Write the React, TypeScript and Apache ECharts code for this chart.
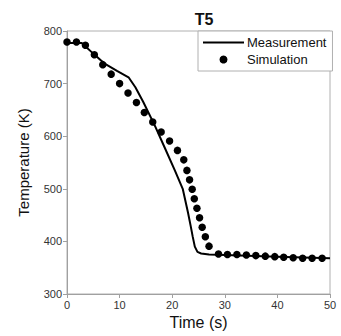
import React, { useEffect, useRef } from "react";
import * as echarts from "echarts";

const measTime = [0, 2.8, 5, 7, 9.5, 11.7, 13, 14.5, 16.7, 18.5, 20.5, 22, 23, 23.5, 23.9, 24.3, 24.8, 25.5, 27, 30, 40, 50];
const measTemp = [777, 777, 757, 739, 724, 712, 693, 665, 620, 580, 535, 500, 455, 430, 409, 390, 380, 377, 375, 374, 371, 368];

const simTime = [0, 1.8, 3.5, 5.2, 6.8, 8.4, 10, 11.6, 13.2, 14.7, 16.3, 17.9, 19.5, 21, 22.2, 22.8, 23.3, 23.8, 24.2, 24.7, 25.2, 25.7, 26.3, 27.0, 28.8, 30.5, 32.3, 34.1, 35.9, 37.7, 39.5, 41.2, 43.0, 44.8, 46.6, 48.5];
const simTemp = [779, 779, 773, 755, 736, 718, 700, 682, 664, 645, 627, 608, 591, 573, 555, 535, 517, 499, 481, 463, 445, 427, 409, 391, 376, 375, 375, 374, 373, 372, 371, 370, 369, 368, 368, 368, 367];

const xTicks = { min: 0, max: 50, interval: 10 };
const yTicks = { min: 300, max: 800, interval: 100 };

export default function App() {
  const ref = useRef<HTMLDivElement>(null);
  useEffect(() => {
    const chart = echarts.init(ref.current!, null, { renderer: "svg" });
    const font = "Liberation Sans, Arial, sans-serif";
    chart.setOption({
      animation: false,
      textStyle: { fontFamily: font },
      title: {
        text: "T5",
        left: 199,
        top: 6,
        textAlign: "center",
        textStyle: { fontSize: 16, fontWeight: "bold", color: "#111", fontFamily: font },
      },
      grid: {
        left: 67,
        right: 11,
        top: 31,
        bottom: 42,
        show: true,
        borderColor: "#b0b0b0",
        borderWidth: 1,
      },
      legend: {
        orient: "vertical",
        left: 198,
        top: 31,
        padding: [5, 6, 5, 5],
        itemWidth: 41,
        itemHeight: 8,
        itemGap: 4,
        borderColor: "#b0b0b0",
        borderWidth: 1,
        backgroundColor: "#fff",
        textStyle: { fontSize: 13, color: "#111", fontFamily: font, padding: [0, 0, 0, -2] },
        data: [
          { name: "Measurement", icon: "path://M0,0 H41 V2 H0 Z", itemStyle: { color: "#000" } },
          { name: "Simulation", icon: "circle", itemStyle: { color: "#000" } },
        ],
      },
      xAxis: {
        type: "value",
        min: xTicks.min,
        max: xTicks.max,
        interval: xTicks.interval,
        name: "Time (s)",
        nameLocation: "middle",
        nameGap: 20,
        nameTextStyle: { fontSize: 16, color: "#111", fontFamily: font },
        axisLine: { lineStyle: { color: "#a0a0a0" } },
        axisTick: { lineStyle: { color: "#a0a0a0" }, length: 4 },
        axisLabel: { fontSize: 11, color: "#333", margin: 5, fontFamily: font },
        splitLine: { show: false },
      },
      yAxis: {
        type: "value",
        min: yTicks.min,
        max: yTicks.max,
        interval: yTicks.interval,
        name: "Temperature (K)",
        nameLocation: "middle",
        nameGap: 36,
        nameTextStyle: { fontSize: 15, color: "#111", fontFamily: font },
        axisLine: { show: true, lineStyle: { color: "#a0a0a0" } },
        axisTick: { show: true, lineStyle: { color: "#a0a0a0" }, length: 4 },
        axisLabel: { fontSize: 11, color: "#333", margin: 5, fontFamily: font },
        splitLine: { show: false },
      },
      series: [
        {
          name: "Measurement",
          type: "line",
          data: measTime.map((t, i) => [t, measTemp[i]]),
          symbol: "none",
          showSymbol: false,
          smooth: false,
          lineStyle: { color: "#000", width: 2 },
          itemStyle: { color: "#000" },
          z: 2,
        },
        {
          name: "Simulation",
          type: "scatter",
          data: simTime.map((t, i) => [t, simTemp[i]]),
          symbol: "circle",
          symbolSize: 7.5,
          itemStyle: { color: "#000", opacity: 1 },
          z: 3,
        },
      ],
    });
    return () => chart.dispose();
  }, []);
  return <div ref={ref} style={{ width: 341, height: 336, position: "absolute", left: 0, top: 0, background: "#fff" }} />;
}
